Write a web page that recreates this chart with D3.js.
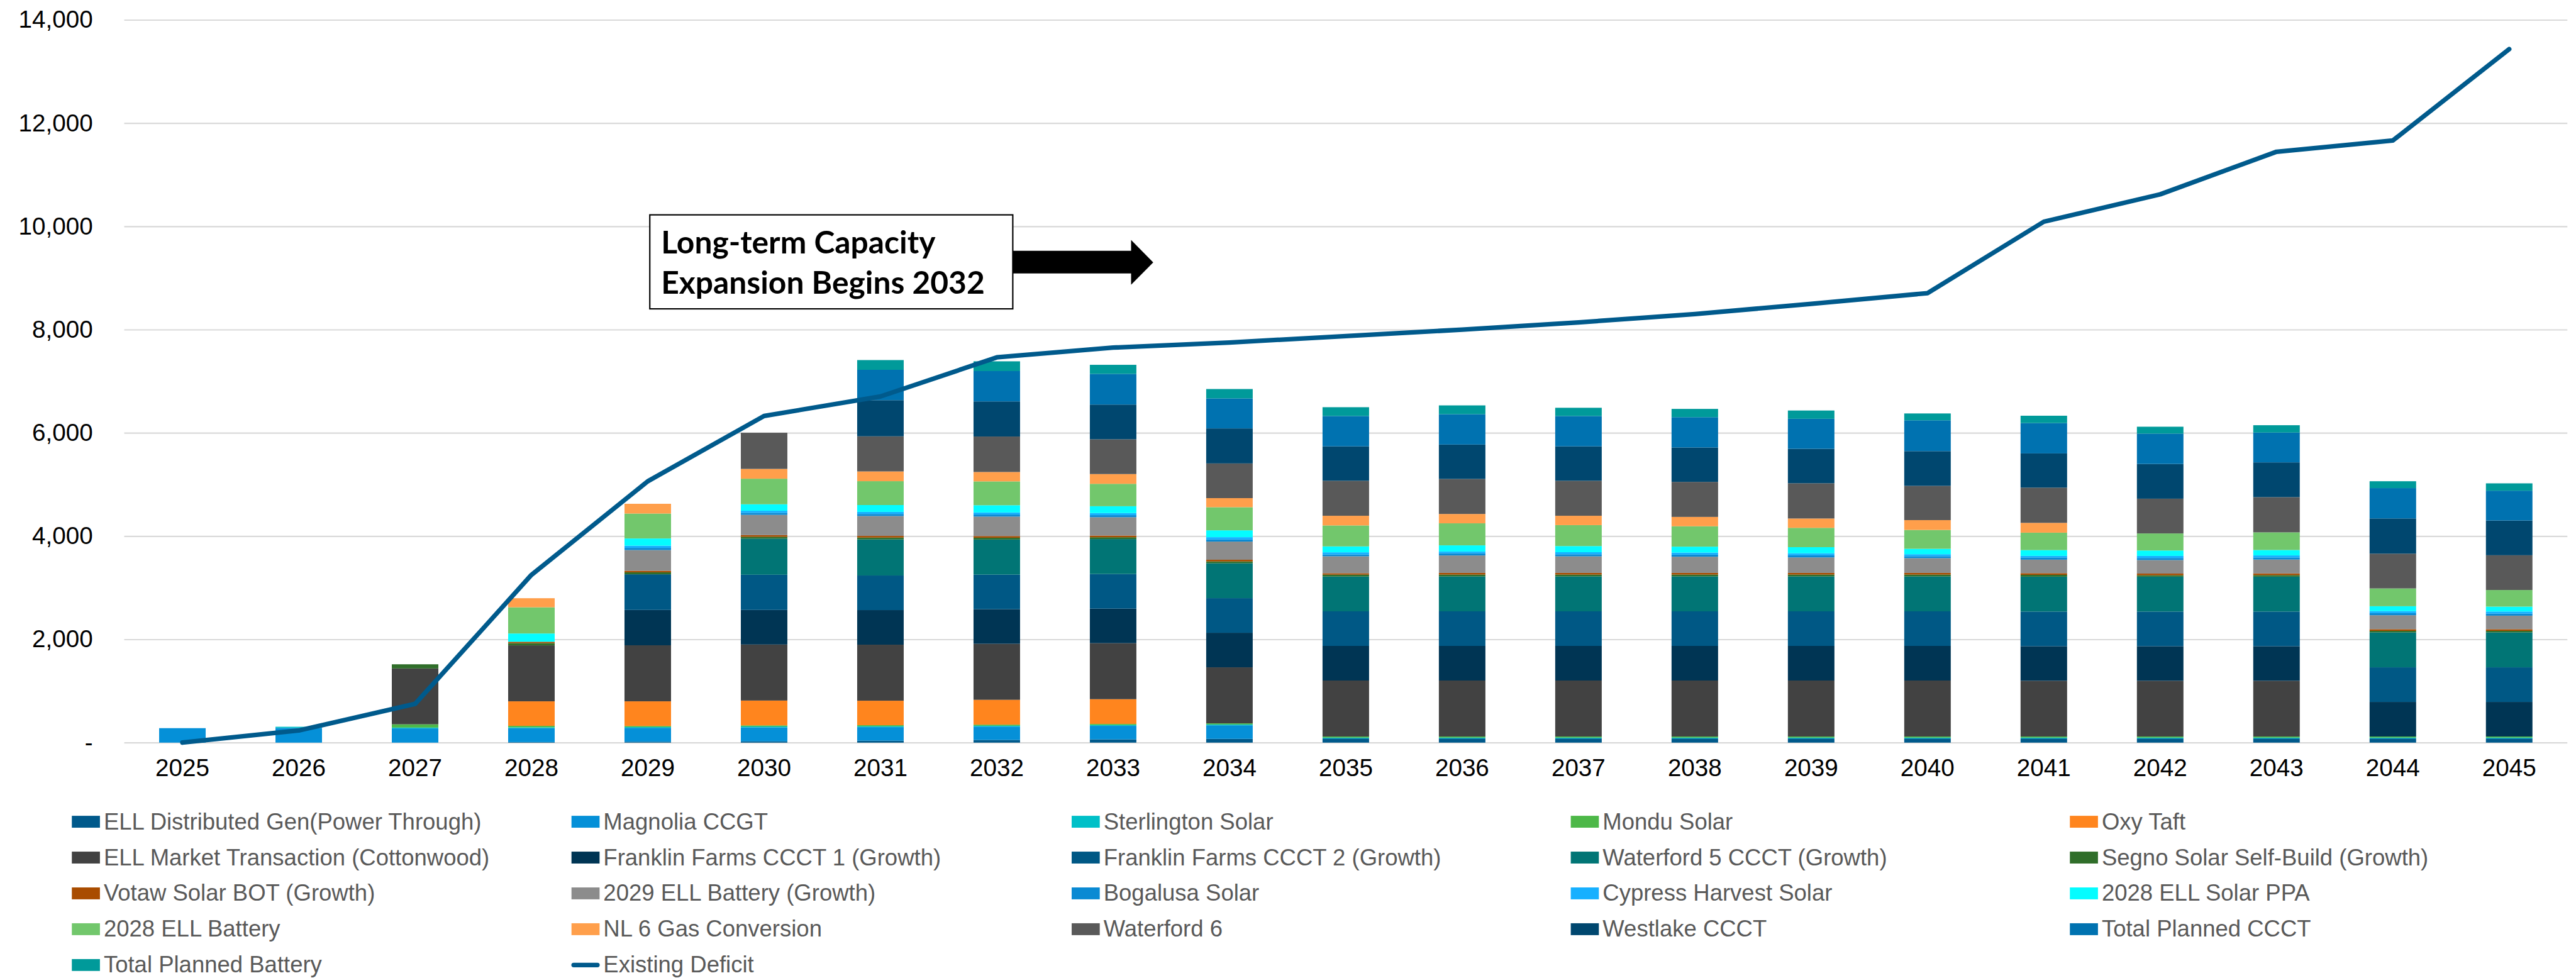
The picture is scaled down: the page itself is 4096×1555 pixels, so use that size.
<!DOCTYPE html>
<meta charset="UTF-8">
<style>
  body { margin: 0; background: #fff; }
  .tick text { font-family: "Liberation Sans", Arial, sans-serif; font-size: 45px; fill: #000; }
  .ytick line { stroke: #d9d9d9; stroke-width: 2.5px; }
  .legend text { font-family: "Liberation Sans", Arial, sans-serif; font-size: 42.5px; fill: #595959; }
  .note text { font-family: Lato, "Open Sans", sans-serif; font-weight: bold; fill: #000; }
</style>
<body>
<script src="https://d3js.org/d3.v7.min.js"></script>
<script>
// categories
var years = ["2025","2026","2027","2028","2029","2030","2031","2032","2033","2034","2035",
             "2036","2037","2038","2039","2040","2041","2042","2043","2044","2045"];

// stacked series (MW), bottom to top
var ellDistGen    = [0,0,0,10,18,24,38,52,63,73,80,80,80,80,80,80,80,80,80,80,80];
var magnolia      = [280,285,275,270,269,272,262,258,262,262,0,0,0,0,0,0,0,0,0,0,0];
var sterlington   = [0,22,17,17,14,17,17,17,17,17,17,17,17,17,17,17,17,17,17,17,17];
var mondu         = [0,0,63,28,21,21,21,21,21,21,21,21,21,21,21,21,21,21,21,21,21];
var oxyTaft       = [0,0,0,475,478,481,474,481,478,0,0,0,0,0,0,0,0,0,0,0,0];
var ellMarket     = [0,0,1082,1084,1085,1085,1085,1085,1085,1085,1085,1085,1085,1085,1085,1085,1080,1080,1080,0,0];
var franklin1     = [0,0,0,0,685,670,670,670,670,670,670,670,670,670,670,670,670,670,670,670,670];
var franklin2     = [0,0,0,0,690,682,670,670,670,670,670,670,670,670,670,670,670,670,670,670,670];
var waterford5    = [0,0,0,0,0,700,700,680,677,677,675,677,677,677,677,677,677,677,677,677,677];
var segno         = [0,0,80,43,38,35,35,35,35,35,35,35,35,35,35,35,35,28,30,30,30];
var votaw         = [0,0,0,27,31,32,32,32,32,32,28,32,32,32,32,32,32,31,32,32,32];
var battery2029   = [0,0,0,0,401,392,385,377,356,352,328,338,321,314,300,286,262,262,269,270,262];
var bogalusa      = [0,0,0,0,42,40,40,40,40,40,35,42,40,40,42,38,42,40,40,40,40];
var cypress       = [0,0,0,0,42,40,40,40,40,45,42,35,40,40,38,38,31,40,40,40,40];
var solarPpa2028  = [0,0,0,160,140,126,133,140,133,133,115,119,119,115,119,105,112,105,105,95,95];
var battery2028   = [0,0,0,507,483,495,462,462,434,448,406,427,406,395,374,366,338,331,342,345,322];
var nl6Gas        = [0,0,0,176,189,190,189,182,189,176,187,181,181,181,181,190,190,0,0,0,0];
var waterford6    = [0,0,0,0,0,700,680,687,673,672,678,678,678,678,683,663,682,673,682,673,673];
var westlake      = [0,0,0,0,0,0,700,680,673,678,667,667,667,667,667,673,663,673,673,682,673];
var plannedCcct   = [0,0,0,0,0,0,588,588,595,582,587,587,587,587,582,597,588,588,578,588,578];
var plannedBatt   = [0,0,0,0,0,0,189,189,175,181,171,171,160,160,160,133,142,133,142,133,142];

// line series
var existingDeficit = [0,235,750,3249,5062,6327,6705,7462,7651,7750,7875,8000,8140,8300,8500,8706,10090,10620,11445,11663,13434];

var yTicks = [0,2000,4000,6000,8000,10000,12000,14000];

var series = [
  {name: "ELL Distributed Gen(Power Through)", values: ellDistGen, color: "#00598b"},
  {name: "Magnolia CCGT", values: magnolia, color: "#0590d8"},
  {name: "Sterlington Solar", values: sterlington, color: "#00c0c8"},
  {name: "Mondu Solar", values: mondu, color: "#4db848"},
  {name: "Oxy Taft", values: oxyTaft, color: "#ff851e"},
  {name: "ELL Market Transaction (Cottonwood)", values: ellMarket, color: "#424242"},
  {name: "Franklin Farms CCCT 1 (Growth)", values: franklin1, color: "#003554"},
  {name: "Franklin Farms CCCT 2 (Growth)", values: franklin2, color: "#005885"},
  {name: "Waterford 5 CCCT (Growth)", values: waterford5, color: "#017575"},
  {name: "Segno Solar Self-Build (Growth)", values: segno, color: "#306e2a"},
  {name: "Votaw Solar BOT (Growth)", values: votaw, color: "#a94c00"},
  {name: "2029 ELL Battery (Growth)", values: battery2029, color: "#8c8c8c"},
  {name: "Bogalusa Solar", values: bogalusa, color: "#0a8ad3"},
  {name: "Cypress Harvest Solar", values: cypress, color: "#17b0ff"},
  {name: "2028 ELL Solar PPA", values: solarPpa2028, color: "#05fcff"},
  {name: "2028 ELL Battery", values: battery2028, color: "#72c76c"},
  {name: "NL 6 Gas Conversion", values: nl6Gas, color: "#ff9f4b"},
  {name: "Waterford 6", values: waterford6, color: "#595959"},
  {name: "Westlake CCCT", values: westlake, color: "#00476f"},
  {name: "Total Planned CCCT", values: plannedCcct, color: "#0072b0"},
  {name: "Total Planned Battery", values: plannedBatt, color: "#009a9a"}
];
var lineColor = "#005a8c";

// table for d3.stack
var rows = years.map(function(yr, i) {
  var r = {year: yr};
  series.forEach(function(s) { r[s.name] = s.values[i]; });
  return r;
});

// drawing in the reference's own pixel space, viewBox scales it down
var W = 4769, H = 1810;
var plotLeft = 230, plotRight = 4753, plotTop = 36.5, plotBottom = 1374.5;

var svg = d3.select("body").append("svg")
    .attr("width", 4096)
    .attr("height", 1555)
    .attr("viewBox", "0 0 " + W + " " + H);

var x = d3.scaleBand().domain(years).range([plotLeft, plotRight])
    .paddingInner(0.6).paddingOuter(0.3);
var y = d3.scaleLinear().domain([0, 14000]).range([plotBottom, plotTop]);

// y axis + gridlines
var yAxis = svg.append("g")
    .attr("class", "ytick")
    .attr("transform", "translate(" + plotLeft + ",0)")
    .call(d3.axisLeft(y).tickValues(yTicks)
      .tickSize(-(plotRight - plotLeft)).tickPadding(58)
      .tickFormat(function(d) { return d === 0 ? "-" : d3.format(",")(d); }));
yAxis.select(".domain").remove();

// x axis labels
var xAxis = svg.append("g")
    .attr("transform", "translate(0," + plotBottom + ")")
    .call(d3.axisBottom(x).tickSize(0).tickPadding(30));
xAxis.select(".domain").remove();

// stacked bars
var stack = d3.stack().keys(series.map(function(s) { return s.name; }));
var layers = stack(rows);

svg.append("g").selectAll("g")
  .data(layers)
  .enter().append("g")
    .attr("fill", function(d, i) { return series[i].color; })
  .selectAll("rect")
  .data(function(d) { return d.filter(function(p) { return p[1] - p[0] > 0; }); })
  .enter().append("rect")
    .attr("x", function(d) { return x(d.data.year); })
    .attr("width", x.bandwidth())
    .attr("y", function(d) { return y(d[1]); })
    .attr("height", function(d) { return y(d[0]) - y(d[1]); });

// existing deficit line
var line = d3.line()
    .x(function(d, i) { return x(years[i]) + x.bandwidth() / 2; })
    .y(function(d) { return y(d); });

svg.append("path")
    .datum(existingDeficit)
    .attr("d", line)
    .attr("fill", "none")
    .attr("stroke", lineColor)
    .attr("stroke-width", 8.5)
    .attr("stroke-linejoin", "round")
    .attr("stroke-linecap", "round");

// annotation box + arrow
var note = svg.append("g").attr("class", "note");
note.append("rect")
    .attr("x", 1203).attr("y", 397.5)
    .attr("width", 672).attr("height", 174)
    .attr("fill", "#fff").attr("stroke", "#000").attr("stroke-width", 2.5);
var t1 = note.append("text").attr("x", 1224).attr("y", 469).text("Long-term Capacity");
var t2 = note.append("text").attr("x", 1224).attr("y", 544).text("Expansion Begins 2032");
t2.style("font-size", "60px");
var fs = 60 * 599 / t2.node().getComputedTextLength();
t1.style("font-size", fs + "px");
t2.style("font-size", fs + "px");

note.append("path")
    .attr("d", "M1875,464 L2094,464 L2094,444 L2135,485.5 L2094,527 L2094,506 L1875,506 Z")
    .attr("fill", "#000");

// legend, 5 columns
var colX = [133, 1058, 1984, 2908, 3832];
var legend = svg.append("g").attr("class", "legend");
var items = series.map(function(s) { return {name: s.name, color: s.color, kind: "bar"}; });
items.push({name: "Existing Deficit", color: lineColor, kind: "line"});

var item = legend.selectAll("g")
  .data(items)
  .enter().append("g")
    .attr("transform", function(d, i) {
      return "translate(" + colX[i % 5] + "," + (1535 + Math.floor(i / 5) * 66.3) + ")";
    });

item.filter(function(d) { return d.kind === "bar"; })
  .append("rect")
    .attr("x", 0).attr("y", -25)
    .attr("width", 52).attr("height", 22)
    .attr("fill", function(d) { return d.color; });

item.filter(function(d) { return d.kind === "line"; })
  .append("line")
    .attr("x1", 4).attr("x2", 48).attr("y1", -14).attr("y2", -14)
    .attr("stroke", function(d) { return d.color; })
    .attr("stroke-width", 8.5)
    .attr("stroke-linecap", "round");

item.append("text")
    .attr("x", 59)
    .text(function(d) { return d.name; });
</script>
</body>
